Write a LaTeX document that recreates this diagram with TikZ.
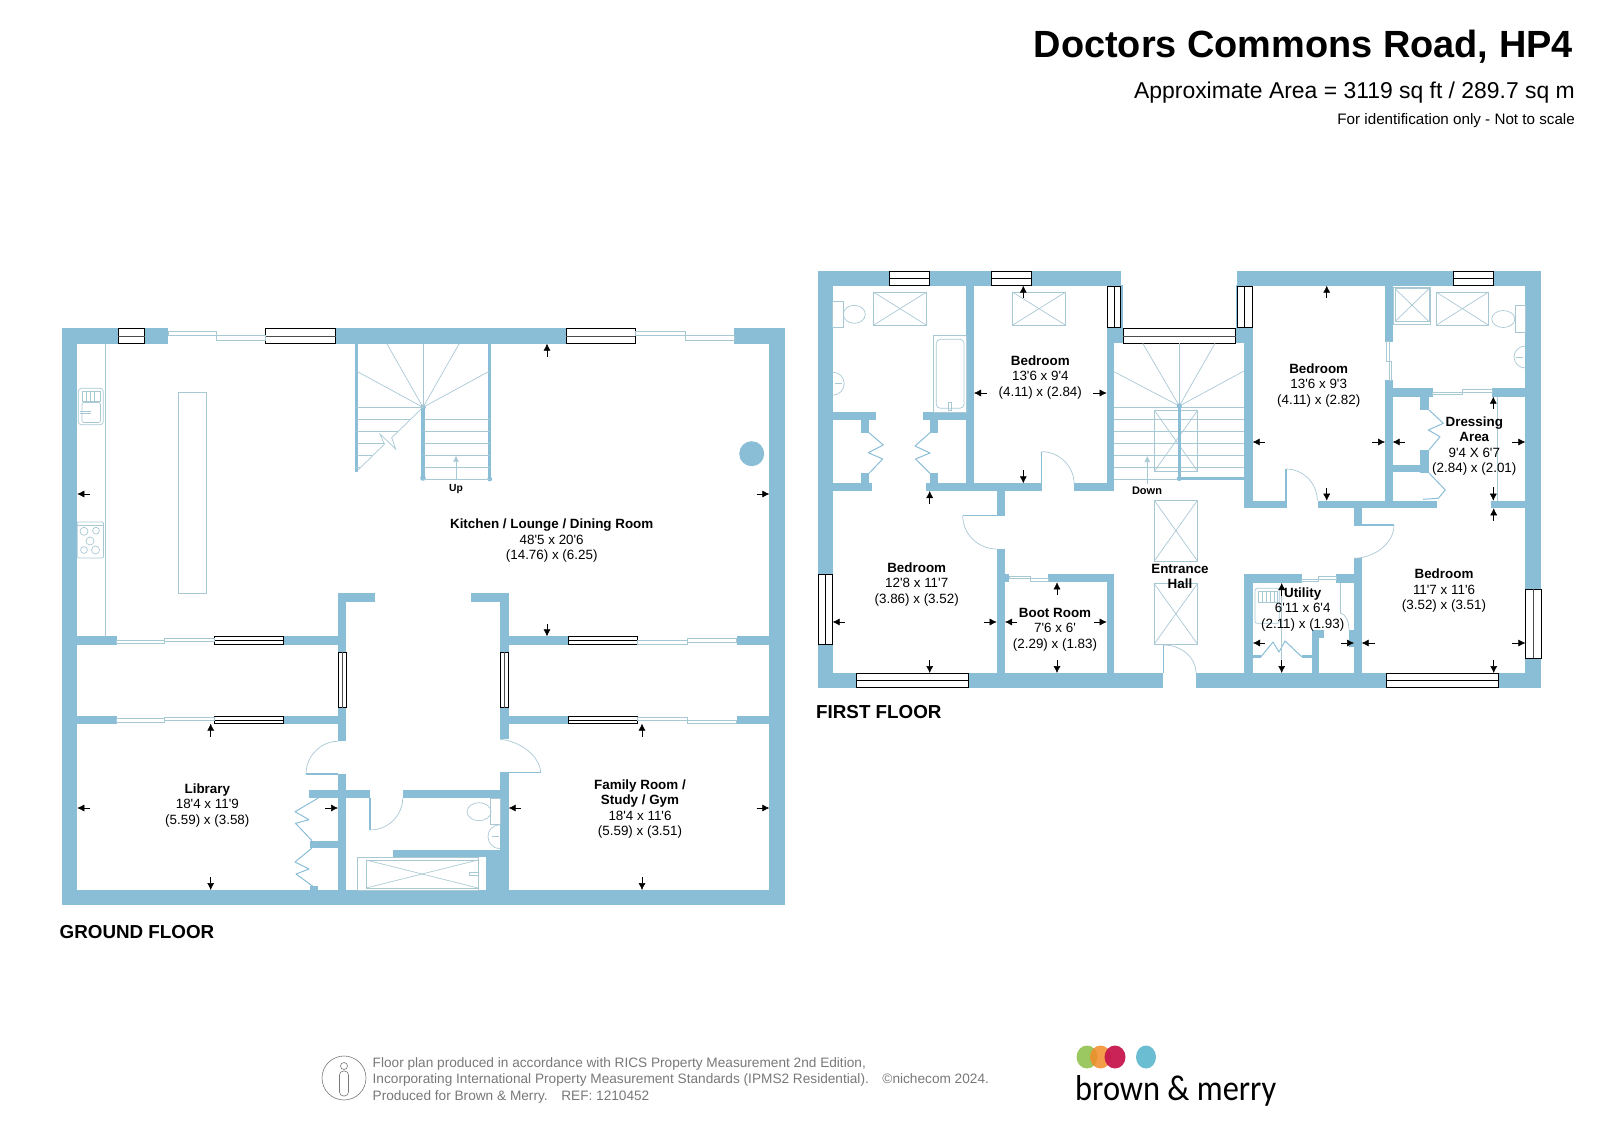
\documentclass[tikz,border=0pt]{standalone}
\usepackage{fontspec}
\setmainfont{Liberation Sans}[Ligatures=TeXOff]
\newfontfamily\logofont{Carlito}[FakeStretch=0.9]
\usetikzlibrary{arrows.meta, positioning}
\definecolor{wallblue}{RGB}{138,189,214}
\definecolor{fitblue}{RGB}{168,200,212}
\definecolor{footgray}{RGB}{120,120,120}
\definecolor{logogreen}{RGB}{139,190,70}
\definecolor{logoorange}{RGB}{242,140,40}
\definecolor{logored}{RGB}{198,23,79}
\definecolor{logoblue}{RGB}{107,189,209}
\tikzset{
  wall/.style={fill=wallblue, draw=none},
  windowbox/.style={draw=black, fill=white, line width=1pt},
  slider/.style={draw=fitblue, fill=white, line width=0.8pt},
  fitting/.style={draw=fitblue, line width=0.7pt},
  doorleaf/.style={draw=wallblue, line width=1.2pt},
  foldleaf/.style={draw=wallblue, line width=1pt, line join=round},
  dimarrow/.style={-{Latex[length=7pt,width=7pt]}, line width=0.5pt, black},
  roomtext/.style={align=center, inner sep=0pt, font=\fontsize{13.4}{15.5}\selectfont},
  floortext/.style={anchor=base west, inner sep=0pt, font=\fontsize{18.8}{20}\selectfont\bfseries},
  headtext/.style={anchor=base east, inner sep=0pt}
}
\begin{document}
\begin{tikzpicture}[x=1pt,y=-1pt]
  \useasboundingbox (0,0) rectangle (1600,1132);
  % Title block
  \node[headtext, font=\fontsize{37.9}{40}\selectfont\bfseries] (titletext) at (1573,58) {Doctors Commons Road, HP4};
  \node[headtext, font=\fontsize{22.9}{25}\selectfont] (areatext) at (1575,98) {Approximate Area = 3119 sq ft / 289.7 sq m};
  \node[headtext, font=\fontsize{15.2}{17}\selectfont] (scaletext) at (1575,124) {For identification only - Not to scale};

  % Ground floor outer walls
  \fill[wall] (62,328) rectangle (785,343.7);
  \fill[wall] (62,328) rectangle (77.3,905);
  \fill[wall] (769.3,328) rectangle (785,905);
  \fill[wall] (62,890) rectangle (785,905);
  % Ground floor openings in top wall
  \fill[white] (168,328) rectangle (265,343.7);
  \fill[white] (635,328) rectangle (734,343.7);
  % Ground floor hall walls
  \fill[wall] (338,593.3) rectangle (375,602);
  \fill[wall] (338,593.3) rectangle (346,741.3);
  \fill[wall] (338,774) rectangle (346,890);
  \fill[wall] (471,593.3) rectangle (508.7,602);
  \fill[wall] (500.3,593.3) rectangle (508.7,739.3);
  \fill[wall] (500.3,772.7) rectangle (508.7,890);
  % Ground floor cross walls
  \fill[wall] (77,636.3) rectangle (116.7,644.7);
  \fill[wall] (283.7,636.3) rectangle (338,644.7);
  \fill[wall] (77,716) rectangle (116.7,723.7);
  \fill[wall] (283.7,716) rectangle (338,723.7);
  \fill[wall] (508,636.3) rectangle (568.3,644.7);
  \fill[wall] (736.7,636.3) rectangle (770,644.7);
  \fill[wall] (508,716) rectangle (568.3,723.7);
  \fill[wall] (736.7,716) rectangle (770,723.7);
  % Ground floor shower room and cupboards
  \fill[wall] (309.3,789.7) rectangle (370,798);
  \fill[wall] (402.7,789.7) rectangle (501,798);
  \fill[wall] (310,840.7) rectangle (338,848);
  \fill[wall] (392.7,850) rectangle (501,857.3);
  \fill[wall] (486,850) rectangle (501,890);
  \fill[wall] (310,885.5) rectangle (318,890);
  % Ground floor windows
  \draw[windowbox] (118.3,328) rectangle (144.7,343.7);
  \draw[windowbox] (265,328) rectangle (335.5,343.7);
  \draw[windowbox] (566,328) rectangle (635,343.7);
  \draw[windowbox] (214,636.3) rectangle (283.7,644.7);
  \draw[windowbox] (214,716) rectangle (283.7,723.7);
  \draw[windowbox] (568.3,636.3) rectangle (637.7,644.7);
  \draw[windowbox] (568.3,716) rectangle (637.7,723.7);
  \draw[windowbox] (338,652.3) rectangle (346,707.7);
  \draw[windowbox] (500.3,652.3) rectangle (508.7,707.7);
  \draw[black!70, line width=0.7pt] (118.3,336) -- (144.7,336);
  \draw[black!70, line width=0.7pt] (265,336) -- (335.5,336);
  \draw[black!70, line width=0.7pt] (566,336) -- (635,336);
  \draw[black, line width=0.7pt] (214,640.5) -- (283.7,640.5);
  \draw[black, line width=0.7pt] (214,720) -- (283.7,720);
  \draw[black, line width=0.7pt] (568.3,640.5) -- (637.7,640.5);
  \draw[black, line width=0.7pt] (568.3,720) -- (637.7,720);
  \draw[black!70, line width=0.7pt] (342,652.3) -- (342,707.7);
  \draw[black!70, line width=0.7pt] (504.5,652.3) -- (504.5,707.7);
  % Ground floor sliding doors
  \draw[slider] (168,331.3) rectangle (216.7,335.7);
  \draw[slider] (216.7,335.7) rectangle (265,340.3);
  \draw[slider] (635,331.3) rectangle (685.7,335.7);
  \draw[slider] (685.7,335.7) rectangle (734,340.3);
  \draw[slider] (116.7,640) rectangle (164.7,643.3);
  \draw[slider] (164.7,638.3) rectangle (214,641.7);
  \draw[slider] (116.7,718.3) rectangle (164.7,722.3);
  \draw[slider] (164.7,717.3) rectangle (214,720.5);
  \draw[slider] (637.7,640.7) rectangle (687.7,644);
  \draw[slider] (687.7,638.3) rectangle (736.7,642);
  \draw[slider] (637.7,717.3) rectangle (687.7,720.7);
  \draw[slider] (687.7,720) rectangle (736.7,723);
  % Ground floor stairs
  \draw[wallblue, line width=2.5pt] (356.3,344) -- (356.3,471.7);
  \draw[wallblue, line width=2.5pt] (489.7,344) -- (489.7,479);
  \draw[wallblue, line width=4.5pt] (423,407.3) -- (423,478);
  \fill[wallblue] (423,407.3) circle (2.8);
  \fill[wallblue] (423,478) circle (2.8);
  \fill[wallblue] (489.7,479) circle (2.4);
  \draw[fitting] (423,344) -- (423,407.3);
  \draw[fitting] (356.3,371) -- (423,407.3) -- (387,344);
  \draw[fitting] (489.7,371) -- (423,407.3) -- (459,344);
  \draw[fitting] (356.3,407.3) -- (423,407.3);
  \draw[fitting] (356.3,419.3) -- (411,419.3);
  \draw[fitting] (356.3,431.3) -- (398,431.3);
  \draw[fitting] (356.3,443.3) -- (385,443.3);
  \draw[fitting] (356.3,455.3) -- (372,455.3);
  \draw[fitting] (356.3,467.3) -- (360,467.3);
  \draw[fitting] (423,419.3) -- (489.7,419.3);
  \draw[fitting] (423,431.3) -- (489.7,431.3);
  \draw[fitting] (423,443.3) -- (489.7,443.3);
  \draw[fitting] (423,455.3) -- (489.7,455.3);
  \draw[fitting] (423,467.3) -- (489.7,467.3);
  \draw[fitting] (423,479.3) -- (489.7,479.3);
  \draw[fitting] (423,407.3) -- (391.7,437.7) -- (395.7,449) -- (380,434) -- (384.3,444.3) -- (356.3,471.7);
  \draw[-{Latex[length=6pt,width=6pt]}, fitting] (456,479) -- (456,455.7);
  \node[inner sep=0pt, font=\fontsize{10.3}{12}\selectfont\bfseries] (uptext) at (456,489.5) {Up};
  % Ground floor kitchen fittings
  \draw[fitting] (105.3,343.7) -- (105.3,636.3);
  \draw[fitting] (178.3,392) rectangle (206.7,593.7);
  \draw[fitting, rounded corners=3pt] (78.3,388.3) rectangle (103.3,424.7);
  \draw[fitting, rounded corners=2pt] (82,402.5) rectangle (100.5,422.5);
  \draw[fitting] (82,391) rectangle (100,401);
  \draw[fitting] (86,391) -- (86,401);
  \draw[fitting] (90,391) -- (90,401);
  \draw[fitting] (94,391) -- (94,401);
  \draw[fitting] (80,411.5) -- (91,411.5);
  \draw[fitting] (80,413.5) -- (91,413.5);
  \draw[fitting, rounded corners=1pt] (77.3,522) rectangle (103.5,558);
  \draw[fitting] (77.3,525) -- (103.5,525);
  \draw[fitting] (84,531.3) circle (4);
  \draw[fitting] (96,530.7) circle (3.4);
  \draw[fitting] (90,541) circle (4);
  \draw[fitting] (84,550) circle (3.4);
  \draw[fitting] (95.5,550) circle (4);
  \fill[wallblue] (751.7,453.7) circle (12.5);
  % Ground floor doors
  \draw[doorleaf] (338,774) -- (306,774);
  \draw[fitting] (306,774) .. controls (306,756.4) and (320.4,741.3) .. (338,741.3);
  \draw[doorleaf] (500.3,772.7) -- (540.7,772.7);
  \draw[fitting] (540.7,772.7) .. controls (540,756) and (520,741) .. (500.3,739.3);
  \draw[doorleaf] (370,798) -- (370,830);
  \draw[fitting] (370,830) .. controls (388,830) and (402.7,815.6) .. (402.7,798);
  \draw[foldleaf] (318.3,798) -- (295,811.7) -- (309,819.7) -- (295.5,823.3) -- (312,840.7);
  \draw[foldleaf] (312,848) -- (295,862) -- (309,869) -- (296,874) -- (318,890);
  % Ground floor shower room fittings
  \draw[fitting] (357.3,857.3) rectangle (478.7,890);
  \draw[fitting] (366,860) rectangle (478,888);
  \draw[fitting] (366,860) -- (478,888);
  \draw[fitting] (366,888) -- (478,860);
  \draw[fitting] (469,872.5) rectangle (478,875.5);
  \draw[fitting] (490,798.7) rectangle (500,824.7);
  \draw[fitting] (479,811.7) ellipse (12 and 9);
  \draw[fitting] (500,824.7) .. controls (493,824.7) and (488,830) .. (488,836.7) .. controls (488,843) and (493,848.7) .. (500,848.7);
  \draw[fitting] (492,836.7) -- (499,836.7);
  % Ground floor size arrows
  \draw[dimarrow] (90,494) -- (77.3,494);
  \draw[dimarrow] (756.6,494) -- (769.3,494);
  \draw[dimarrow] (547,357) -- (547,343.7);
  \draw[dimarrow] (547,624) -- (547,636.3);
  \draw[dimarrow] (90,808) -- (77.3,808);
  \draw[dimarrow] (325,808) -- (338,808);
  \draw[dimarrow] (210.7,737) -- (210.7,723.7);
  \draw[dimarrow] (210.7,877) -- (210.7,890);
  \draw[dimarrow] (521,808) -- (508.7,808);
  \draw[dimarrow] (756.6,808) -- (769.3,808);
  \draw[dimarrow] (642,737) -- (642,723.7);
  \draw[dimarrow] (642,877) -- (642,890);
  % Ground floor labels
  \node[roomtext] (kitchentext) at (551.7,541) {\textbf{Kitchen / Lounge / Dining Room}\\48'5 x 20'6\\(14.76) x (6.25)};
  \node[roomtext] (librarytext) at (207.3,805.5) {\textbf{Library}\\18'4 x 11'9\\(5.59) x (3.58)};
  \node[roomtext] (familytext) at (640,809) {\textbf{Family Room /}\\\textbf{Study / Gym}\\18'4 x 11'6\\(5.59) x (3.51)};
  \node[floortext] (groundtext) at (59.5,938) {GROUND FLOOR};

  % First floor outer walls
  \fill[wall] (818,271) rectangle (1120.7,285.7);
  \fill[wall] (818,271) rectangle (832.7,687.5);
  \fill[wall] (1237.3,271) rectangle (1541,285.7);
  \fill[wall] (1525.3,271) rectangle (1541,687.5);
  \fill[wall] (818,673) rectangle (1163.3,687.5);
  \fill[wall] (1196,673) rectangle (1541,687.5);
  % First floor stair hall walls
  \fill[wall] (1106.7,285) rectangle (1123,343.3);
  \fill[wall] (1106.7,343) rectangle (1114,491);
  \fill[wall] (1235.7,285) rectangle (1252.7,343.3);
  \fill[wall] (1244,343) rectangle (1252.7,508.3);
  % First floor left rooms
  \fill[wall] (966,285.7) rectangle (974,491);
  \fill[wall] (832.7,412) rectangle (875.7,420);
  \fill[wall] (923.3,412) rectangle (966,420);
  \fill[wall] (861.3,420) rectangle (869,432.7);
  \fill[wall] (861.3,473.3) rectangle (869,483.3);
  \fill[wall] (930,420) rectangle (938,432.7);
  \fill[wall] (930,473.3) rectangle (938,483.3);
  \fill[wall] (832.7,483.3) rectangle (872.3,491);
  \fill[wall] (926,483.3) rectangle (1042.3,491);
  \fill[wall] (1074,483.3) rectangle (1114,491);
  \fill[wall] (996.7,491) rectangle (1005,515.7);
  \fill[wall] (996.7,549) rectangle (1005,673);
  \fill[wall] (1005,574.3) rectangle (1009.3,582.3);
  \fill[wall] (1048.3,574.3) rectangle (1114,582.3);
  \fill[wall] (1106.7,574.3) rectangle (1114,673);
  % First floor right rooms
  \fill[wall] (1244,500.7) rectangle (1286.7,508.3);
  \fill[wall] (1318.3,500.7) rectangle (1436.7,508.3);
  \fill[wall] (1385,285.7) rectangle (1392.7,341.7);
  \fill[wall] (1385,380) rectangle (1392.7,508.3);
  \fill[wall] (1392.7,388.3) rectangle (1432.7,396.7);
  \fill[wall] (1492.3,388.3) rectangle (1525.3,396.7);
  \fill[wall] (1420,396.7) rectangle (1429,410);
  \fill[wall] (1420,450) rectangle (1429,473.3);
  \fill[wall] (1392.7,465) rectangle (1420,472.3);
  \fill[wall] (1491.3,500.7) rectangle (1525.3,508.3);
  \fill[wall] (1354,508) rectangle (1361.7,525);
  \fill[wall] (1354,558.3) rectangle (1361.7,673);
  % First floor utility
  \fill[wall] (1244.3,574.3) rectangle (1253,673);
  \fill[wall] (1244.3,574.3) rectangle (1301.7,583);
  \fill[wall] (1336,574.3) rectangle (1361.7,583);
  \fill[wall] (1311.7,630) rectangle (1319,673);
  \fill[wall] (1311.7,630) rectangle (1324,637.7);
  \fill[wall] (1349,630) rectangle (1354,647);
  \fill[wall] (1253,655) rectangle (1261,658);
  \fill[wall] (1301.7,655) rectangle (1311.7,658);
  % First floor windows
  \draw[windowbox] (889,271) rectangle (929.7,285.7);
  \draw[windowbox] (991.3,271) rectangle (1031.7,285.7);
  \draw[windowbox] (1453.3,271) rectangle (1493.7,285.7);
  \draw[windowbox] (1107.3,286) rectangle (1120.7,327.7);
  \draw[windowbox] (1237.3,286) rectangle (1252.7,327.7);
  \draw[windowbox] (1123.3,328.7) rectangle (1235.7,343.3);
  \draw[windowbox] (818.3,574.3) rectangle (832.7,644.3);
  \draw[windowbox] (856.3,673) rectangle (968.7,687.5);
  \draw[windowbox] (1386.3,673) rectangle (1498.7,687.5);
  \draw[windowbox] (1525.3,589.3) rectangle (1541,658.3);
  \draw[black, line width=0.7pt] (889,278.3) -- (929.7,278.3);
  \draw[black, line width=0.7pt] (991.3,278.3) -- (1031.7,278.3);
  \draw[black, line width=0.7pt] (1453.3,278.3) -- (1493.7,278.3);
  \draw[black, line width=0.7pt] (1114,286) -- (1114,327.7);
  \draw[black, line width=0.7pt] (1244.5,286) -- (1244.5,327.7);
  \draw[black!70, line width=0.7pt] (1123.3,336) -- (1235.7,336);
  \draw[black, line width=0.7pt] (825.5,574.3) -- (825.5,644.3);
  \draw[black, line width=0.7pt] (856.3,680.3) -- (968.7,680.3);
  \draw[black, line width=0.7pt] (1386.3,680.3) -- (1498.7,680.3);
  \draw[black!70, line width=0.7pt] (1533,589.3) -- (1533,658.3);
  % First floor sliding doors
  \draw[slider] (1009.3,576) rectangle (1030,578.3);
  \draw[slider] (1030,578.3) rectangle (1048.3,581);
  \draw[slider] (1301.7,579) rectangle (1318.7,581.3);
  \draw[slider] (1318.7,576.5) rectangle (1336,579);
  \draw[slider] (1432.7,392.7) rectangle (1462.7,394.7);
  \draw[slider] (1462.7,389.5) rectangle (1492.3,392.7);
  \draw[slider] (1386.7,341.7) rectangle (1388.9,361.7);
  \draw[slider] (1389.3,361.7) rectangle (1391.7,380);
  % First floor stairs
  \draw[fitting] (1179.3,343.3) -- (1179.3,406);
  \draw[fitting] (1114,371.7) -- (1179.3,406) -- (1142.7,343.3);
  \draw[fitting] (1244,371) -- (1179.3,406) -- (1215,343.3);
  \draw[fitting] (1114,407.3) -- (1244,407.3);
  \draw[fitting] (1114,419.3) -- (1244,419.3);
  \draw[fitting] (1114,431.3) -- (1244,431.3);
  \draw[fitting] (1114,443.3) -- (1244,443.3);
  \draw[fitting] (1114,455.3) -- (1244,455.3);
  \draw[fitting] (1114,467.3) -- (1244,467.3);
  \draw[fitting] (1114,479.3) -- (1179,479.3);
  \draw[fitting] (1154.3,410.3) rectangle (1197.7,471.3);
  \draw[fitting] (1154.3,410.3) -- (1197.7,471.3);
  \draw[fitting] (1154.3,471.3) -- (1197.7,410.3);
  \draw[wallblue, line width=3.5pt] (1179.3,406) -- (1179.3,478.5);
  \draw[wallblue, line width=2.5pt] (1179.3,478.5) -- (1244,478.5);
  \fill[wallblue] (1179.3,406) circle (2.5);
  \fill[wallblue] (1179.3,478.5) circle (2.5);
  \draw[-{Latex[length=6pt,width=6pt]}, fitting] (1147.3,484) -- (1147.3,456);
  \node[inner sep=0pt, font=\fontsize{11}{12}\selectfont\bfseries] (downtext) at (1147,491) {Down};
  % First floor skylights
  \draw[fitting] (873.3,292) rectangle (926.7,325.3);
  \draw[fitting] (873.3,292) -- (926.7,325.3);
  \draw[fitting] (873.3,325.3) -- (926.7,292);
  \draw[fitting] (1012.3,292) rectangle (1065.7,325.3);
  \draw[fitting] (1012.3,292) -- (1065.7,325.3);
  \draw[fitting] (1012.3,325.3) -- (1065.7,292);
  \draw[fitting] (1436,292) rectangle (1488.7,325.3);
  \draw[fitting] (1436,292) -- (1488.7,325.3);
  \draw[fitting] (1436,325.3) -- (1488.7,292);
  \draw[fitting] (1154,500) rectangle (1197.7,561.3);
  \draw[fitting] (1154,500) -- (1197.7,561.3);
  \draw[fitting] (1154,561.3) -- (1197.7,500);
  \draw[fitting] (1154,583.3) rectangle (1197.7,644.3);
  \draw[fitting] (1154,583.3) -- (1197.7,644.3);
  \draw[fitting] (1154,644.3) -- (1197.7,583.3);
  % First floor bathroom fittings
  \draw[fitting] (832.7,301.3) rectangle (843.3,327.3);
  \draw[fitting] (854.3,314.3) ellipse (11 and 9);
  \draw[fitting] (832.7,372.2) .. controls (839,372.2) and (844.2,377) .. (844.2,383.7) .. controls (844.2,390) and (839,395.2) .. (832.7,395.2);
  \draw[fitting] (835,383.7) -- (842,383.7);
  \draw[fitting] (933.7,335.7) rectangle (966,412);
  \draw[fitting, rounded corners=4pt] (936.3,339.3) rectangle (964,408.3);
  \draw[fitting] (948,402) rectangle (951,410);
  \draw[fitting] (1393.3,287) rectangle (1430.7,324);
  \draw[fitting] (1395,288.7) rectangle (1429,321.5);
  \draw[fitting] (1395,288.7) -- (1429,321.5);
  \draw[fitting] (1395,321.5) -- (1429,288.7);
  \draw[fitting] (1515.7,305.3) rectangle (1525.3,332.7);
  \draw[fitting] (1503.3,319) ellipse (11.5 and 8.5);
  \draw[fitting] (1525.3,346) .. controls (1519,346) and (1514,351) .. (1514,357) .. controls (1514,363) and (1519,368) .. (1525.3,368);
  \draw[fitting] (1516,357) -- (1523,357);
  % First floor doors
  \draw[doorleaf] (1041.7,491) -- (1041.7,451.7);
  \draw[fitting] (1041.7,451.7) .. controls (1059,451.7) and (1074,466) .. (1074,483.3);
  \draw[doorleaf] (996.7,515.7) -- (962.7,515.7);
  \draw[fitting] (962.7,515.7) .. controls (962.7,534) and (978,549) .. (996.7,549);
  \draw[doorleaf] (1286,508) -- (1286,469);
  \draw[fitting] (1286,469) .. controls (1303,469) and (1317.3,483) .. (1317.3,500.7);
  \draw[doorleaf] (1354,525) -- (1394,525);
  \draw[fitting] (1394,525) .. controls (1394,543) and (1375,558) .. (1354,558.3);
  \draw[doorleaf] (1163.3,673) -- (1163.3,645);
  \draw[fitting] (1163.3,645) .. controls (1181,645) and (1196,657) .. (1196,673);
  % First floor folding doors
  \draw[foldleaf] (869,432.7) -- (883.3,445) -- (868.3,452.7) -- (882.7,459) -- (869,473.3);
  \draw[foldleaf] (930,432.7) -- (915,446) -- (930,453) -- (915.5,459) -- (930,473.3);
  \draw[foldleaf] (1429,410) -- (1443.3,423.3) -- (1428.3,430) -- (1440,436.7) -- (1429,450);
  \draw[foldleaf] (1429,473) -- (1445.3,490) -- (1438.3,498.3) -- (1423,499.3);
  \draw[foldleaf] (1261,656.7) -- (1273,642) -- (1279,652) -- (1285,641) -- (1301.7,656.7);
  % First floor utility fittings
  \draw[fitting, rounded corners=2pt] (1255,588.3) rectangle (1279.3,623.3);
  \draw[fitting] (1258,591) rectangle (1277,602);
  \draw[fitting] (1262,591) -- (1262,602);
  \draw[fitting] (1266,591) -- (1266,602);
  \draw[fitting] (1270,591) -- (1270,602);
  \draw[fitting] (1274,591) -- (1274,602);
  \draw[fitting] (1340.3,583) -- (1340.3,613);
  \draw[fitting] (1340.3,613) .. controls (1346,614) and (1349,622) .. (1349,630);
  \draw[fitting] (1281.7,595) -- (1281.7,660);
  \draw[fitting] (1497.3,396.7) -- (1497.3,500.7);
  % First floor size arrows
  \draw[dimarrow] (987,393) -- (974,393);
  \draw[dimarrow] (1093,393) -- (1106.7,393);
  \draw[dimarrow] (1023.3,298) -- (1023.3,285.7);
  \draw[dimarrow] (1023.3,470) -- (1023.3,483.3);
  \draw[dimarrow] (845,622) -- (832.7,622);
  \draw[dimarrow] (984,622) -- (996.7,622);
  \draw[dimarrow] (929.7,504) -- (929.7,491);
  \draw[dimarrow] (929.7,660) -- (929.7,673);
  \draw[dimarrow] (1017,622) -- (1005,622);
  \draw[dimarrow] (1094,622) -- (1106.7,622);
  \draw[dimarrow] (1057,595) -- (1057,582.3);
  \draw[dimarrow] (1057,660) -- (1057,673);
  \draw[dimarrow] (1326.7,298) -- (1326.7,285.7);
  \draw[dimarrow] (1326.7,488) -- (1326.7,500.7);
  \draw[dimarrow] (1265,442) -- (1252.7,442);
  \draw[dimarrow] (1372,442) -- (1385,442);
  \draw[dimarrow] (1405,442) -- (1392.7,442);
  \draw[dimarrow] (1512,442) -- (1525.3,442);
  \draw[dimarrow] (1493.3,409) -- (1493.3,396.7);
  \draw[dimarrow] (1493.3,487) -- (1493.3,500.7);
  \draw[dimarrow] (1493.7,521) -- (1493.7,508.3);
  \draw[dimarrow] (1493.7,660) -- (1493.7,673);
  \draw[dimarrow] (1375,643) -- (1361.7,643);
  \draw[dimarrow] (1512,643) -- (1525.3,643);
  \draw[dimarrow] (1281.7,596) -- (1281.7,583);
  \draw[dimarrow] (1281.7,660) -- (1281.7,673);
  \draw[dimarrow] (1265,643) -- (1253,643);
  \draw[dimarrow] (1341,643) -- (1354,643);
  % First floor labels
  \node[roomtext] (bedonetext) at (1040.3,377.5) {\textbf{Bedroom}\\13'6 x 9'4\\(4.11) x (2.84)};
  \node[roomtext] (bedtwotext) at (916.7,584.2) {\textbf{Bedroom}\\12'8 x 11'7\\(3.86) x (3.52)};
  \node[roomtext] (boottext) at (1055,629.5) {\textbf{Boot Room}\\7'6 x 6'\\(2.29) x (1.83)};
  \node[roomtext] (hallbox) at (1180,576.5) {\textbf{Entrance}\\\textbf{Hall}};
  \node[roomtext] (bedthreetext) at (1318.7,385.5) {\textbf{Bedroom}\\13'6 x 9'3\\(4.11) x (2.82)};
  \node[roomtext] (utilitytext) at (1302.7,609.2) {\textbf{Utility}\\6'11 x 6'4\\(2.11) x (1.93)};
  \node[roomtext] (bedfourtext) at (1444,591) {\textbf{Bedroom}\\11'7 x 11'6\\(3.52) x (3.51)};
  \node[roomtext] (dressingtext) at (1474.3,446) {\textbf{Dressing}\\\textbf{Area}\\9'4 X 6'7\\(2.84) x (2.01)};
  \node[floortext] (firsttext) at (816,718.3) {FIRST FLOOR};

  % Footer note
  \draw[footgray, line width=0.6pt] (344,1078) circle (22);
  \draw[footgray, line width=0.6pt] (344,1066) circle (3.5);
  \draw[footgray, line width=0.6pt, rounded corners=4pt] (339.5,1071) rectangle (348.5,1096);
  \node[anchor=west, align=left, inner sep=0pt, text=footgray, font=\fontsize{13.65}{16.5}\selectfont] (footnote) at (372.5,1080) {Floor plan produced in accordance with RICS Property Measurement 2nd Edition,\\Incorporating International Property Measurement Standards (IPMS2 Residential).\quad \copyright nichecom 2024.\\Produced for Brown \& Merry.\quad REF: 1210452};
  % Logo
  \fill[logogreen, opacity=0.85] (1087,1057) ellipse (10.5 and 11.5);
  \fill[logoorange, opacity=0.85] (1100.5,1057) ellipse (10.5 and 11.5);
  \fill[logored, opacity=0.95] (1115,1057) ellipse (10.5 and 11.5);
  \fill[logoblue] (1146,1057) ellipse (10 and 11.5);
  \node[anchor=base west, inner sep=0pt, font=\fontsize{36}{38}\selectfont\logofont] (logotext) at (1075,1100) {brown \& merry};
\end{tikzpicture}
\end{document}
